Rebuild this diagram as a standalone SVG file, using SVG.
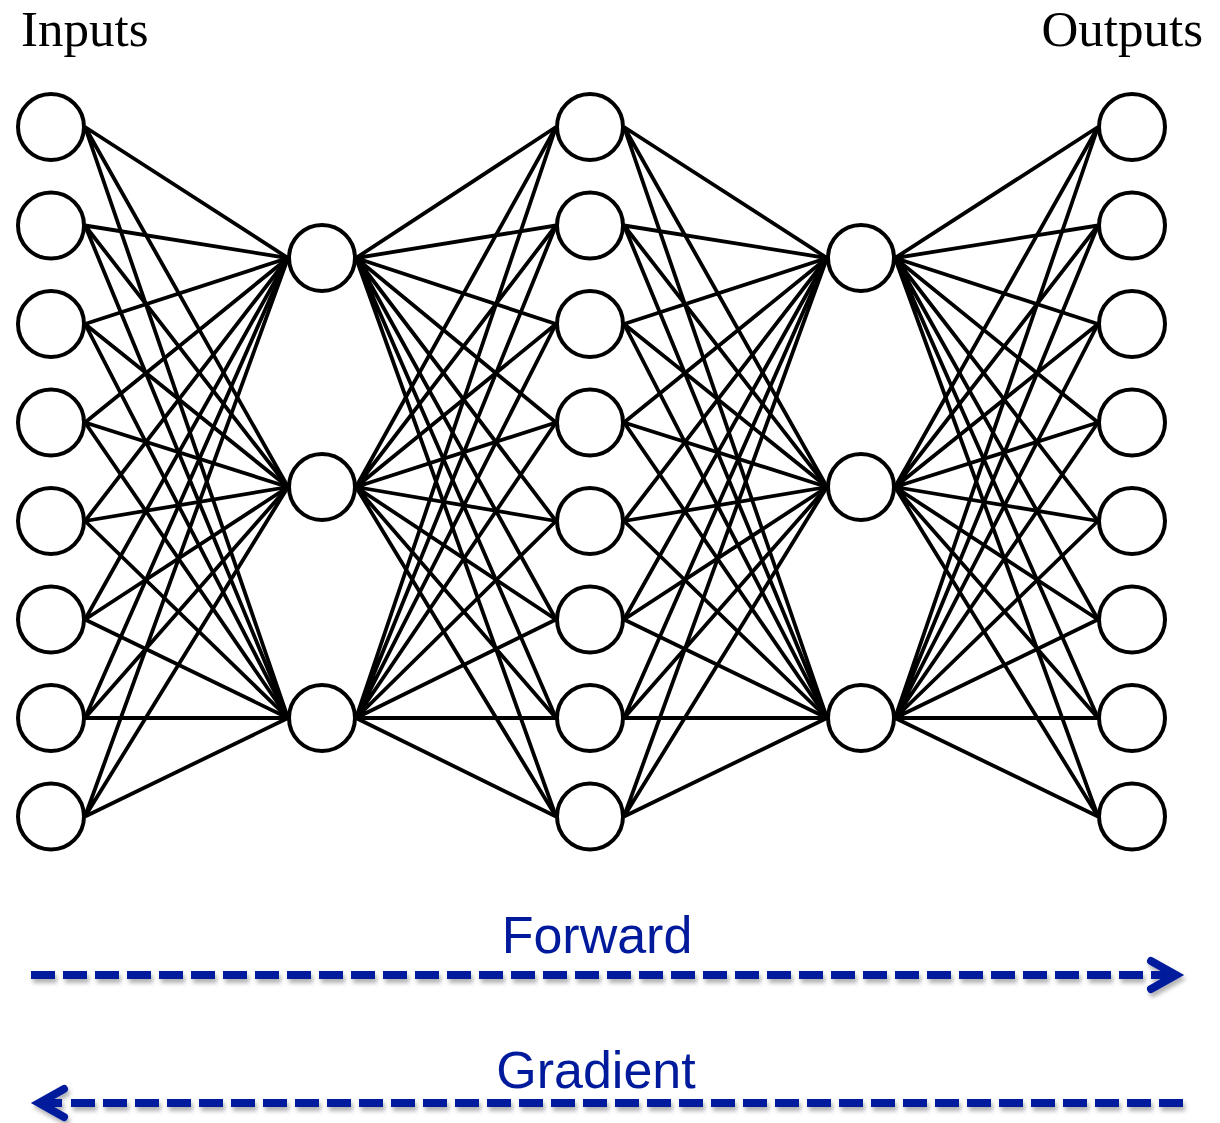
<svg xmlns="http://www.w3.org/2000/svg" width="1220" height="1123" viewBox="0 0 1220 1123">
<style>
.n{fill:#fff;stroke:#000;stroke-width:4}
.c{fill:none;stroke:#000;stroke-width:3.8}
.lbl{font-family:"Liberation Serif","Times New Roman",serif;font-size:51px;fill:#000}
.dir{font-family:"Liberation Sans",Arial,sans-serif;font-size:52px;fill:#001A9C;text-anchor:middle}
.ar{fill:none;stroke:#001A9C;stroke-width:8}
</style>
<defs>
<filter id="sh" x="-5%" y="-50%" width="110%" height="200%">
<feDropShadow dx="2" dy="4" stdDeviation="2" flood-color="#000" flood-opacity="0.3"/>
</filter>
</defs>
<rect width="1220" height="1123" fill="#fff"/>
<g id="connectors" class="c">
<path d="M85 127L288 258M85 127L288 487M85 127L288 718"/>
<path d="M85 225.5L288 258M85 225.5L288 487M85 225.5L288 718"/>
<path d="M85 324L288 258M85 324L288 487M85 324L288 718"/>
<path d="M85 422.5L288 258M85 422.5L288 487M85 422.5L288 718"/>
<path d="M85 521L288 258M85 521L288 487M85 521L288 718"/>
<path d="M85 619.5L288 258M85 619.5L288 487M85 619.5L288 718"/>
<path d="M85 718L288 258M85 718L288 487M85 718L288 718"/>
<path d="M85 816.5L288 258M85 816.5L288 487M85 816.5L288 718"/>
<path d="M356 258L556 127M356 258L556 225.5M356 258L556 324M356 258L556 422.5M356 258L556 521M356 258L556 619.5M356 258L556 718M356 258L556 816.5"/>
<path d="M356 487L556 127M356 487L556 225.5M356 487L556 324M356 487L556 422.5M356 487L556 521M356 487L556 619.5M356 487L556 718M356 487L556 816.5"/>
<path d="M356 718L556 127M356 718L556 225.5M356 718L556 324M356 718L556 422.5M356 718L556 521M356 718L556 619.5M356 718L556 718M356 718L556 816.5"/>
<path d="M624 127L827 258M624 127L827 487M624 127L827 718"/>
<path d="M624 225.5L827 258M624 225.5L827 487M624 225.5L827 718"/>
<path d="M624 324L827 258M624 324L827 487M624 324L827 718"/>
<path d="M624 422.5L827 258M624 422.5L827 487M624 422.5L827 718"/>
<path d="M624 521L827 258M624 521L827 487M624 521L827 718"/>
<path d="M624 619.5L827 258M624 619.5L827 487M624 619.5L827 718"/>
<path d="M624 718L827 258M624 718L827 487M624 718L827 718"/>
<path d="M624 816.5L827 258M624 816.5L827 487M624 816.5L827 718"/>
<path d="M895 258L1098 127M895 258L1098 225.5M895 258L1098 324M895 258L1098 422.5M895 258L1098 521M895 258L1098 619.5M895 258L1098 718M895 258L1098 816.5"/>
<path d="M895 487L1098 127M895 487L1098 225.5M895 487L1098 324M895 487L1098 422.5M895 487L1098 521M895 487L1098 619.5M895 487L1098 718M895 487L1098 816.5"/>
<path d="M895 718L1098 127M895 718L1098 225.5M895 718L1098 324M895 718L1098 422.5M895 718L1098 521M895 718L1098 619.5M895 718L1098 718M895 718L1098 816.5"/>
</g>
<g id="input-layer">
<g id="in1"><circle class="n" cx="51" cy="127" r="33"/></g>
<g id="in2"><circle class="n" cx="51" cy="225.5" r="33"/></g>
<g id="in3"><circle class="n" cx="51" cy="324" r="33"/></g>
<g id="in4"><circle class="n" cx="51" cy="422.5" r="33"/></g>
<g id="in5"><circle class="n" cx="51" cy="521" r="33"/></g>
<g id="in6"><circle class="n" cx="51" cy="619.5" r="33"/></g>
<g id="in7"><circle class="n" cx="51" cy="718" r="33"/></g>
<g id="in8"><circle class="n" cx="51" cy="816.5" r="33"/></g>
</g>
<g id="hidden1-layer">
<g id="h1a"><circle class="n" cx="322" cy="258" r="33"/></g>
<g id="h1b"><circle class="n" cx="322" cy="487" r="33"/></g>
<g id="h1c"><circle class="n" cx="322" cy="718" r="33"/></g>
</g>
<g id="middle-layer">
<g id="m1"><circle class="n" cx="590" cy="127" r="33"/></g>
<g id="m2"><circle class="n" cx="590" cy="225.5" r="33"/></g>
<g id="m3"><circle class="n" cx="590" cy="324" r="33"/></g>
<g id="m4"><circle class="n" cx="590" cy="422.5" r="33"/></g>
<g id="m5"><circle class="n" cx="590" cy="521" r="33"/></g>
<g id="m6"><circle class="n" cx="590" cy="619.5" r="33"/></g>
<g id="m7"><circle class="n" cx="590" cy="718" r="33"/></g>
<g id="m8"><circle class="n" cx="590" cy="816.5" r="33"/></g>
</g>
<g id="hidden2-layer">
<g id="h2a"><circle class="n" cx="861" cy="258" r="33"/></g>
<g id="h2b"><circle class="n" cx="861" cy="487" r="33"/></g>
<g id="h2c"><circle class="n" cx="861" cy="718" r="33"/></g>
</g>
<g id="output-layer">
<g id="out1"><circle class="n" cx="1132" cy="127" r="33"/></g>
<g id="out2"><circle class="n" cx="1132" cy="225.5" r="33"/></g>
<g id="out3"><circle class="n" cx="1132" cy="324" r="33"/></g>
<g id="out4"><circle class="n" cx="1132" cy="422.5" r="33"/></g>
<g id="out5"><circle class="n" cx="1132" cy="521" r="33"/></g>
<g id="out6"><circle class="n" cx="1132" cy="619.5" r="33"/></g>
<g id="out7"><circle class="n" cx="1132" cy="718" r="33"/></g>
<g id="out8"><circle class="n" cx="1132" cy="816.5" r="33"/></g>
</g>
<g id="labels">
<text class="lbl" x="21" y="46">Inputs</text>
<text class="lbl" x="1203" y="46" text-anchor="end">Outputs</text>
</g>
<g id="forward">
<text class="dir" x="597" y="953">Forward</text>
<g filter="url(#sh)">
<line class="ar" x1="31" y1="975" x2="1151" y2="975" stroke-dasharray="24 8"/>
<path class="ar" d="M1151 975H1172"/>
<path class="ar" d="M1151 961L1176 975L1151 989" stroke-linecap="round" stroke-linejoin="miter"/>
</g>
</g>
<g id="gradient">
<text class="dir" x="596" y="1088">Gradient</text>
<g filter="url(#sh)">
<line class="ar" x1="71" y1="1103" x2="1183" y2="1103" stroke-dasharray="24 8"/>
<path class="ar" d="M42 1103H62"/>
<path class="ar" d="M64 1089L39 1103L64 1117" stroke-linecap="round" stroke-linejoin="miter"/>
</g>
</g>
</svg>
